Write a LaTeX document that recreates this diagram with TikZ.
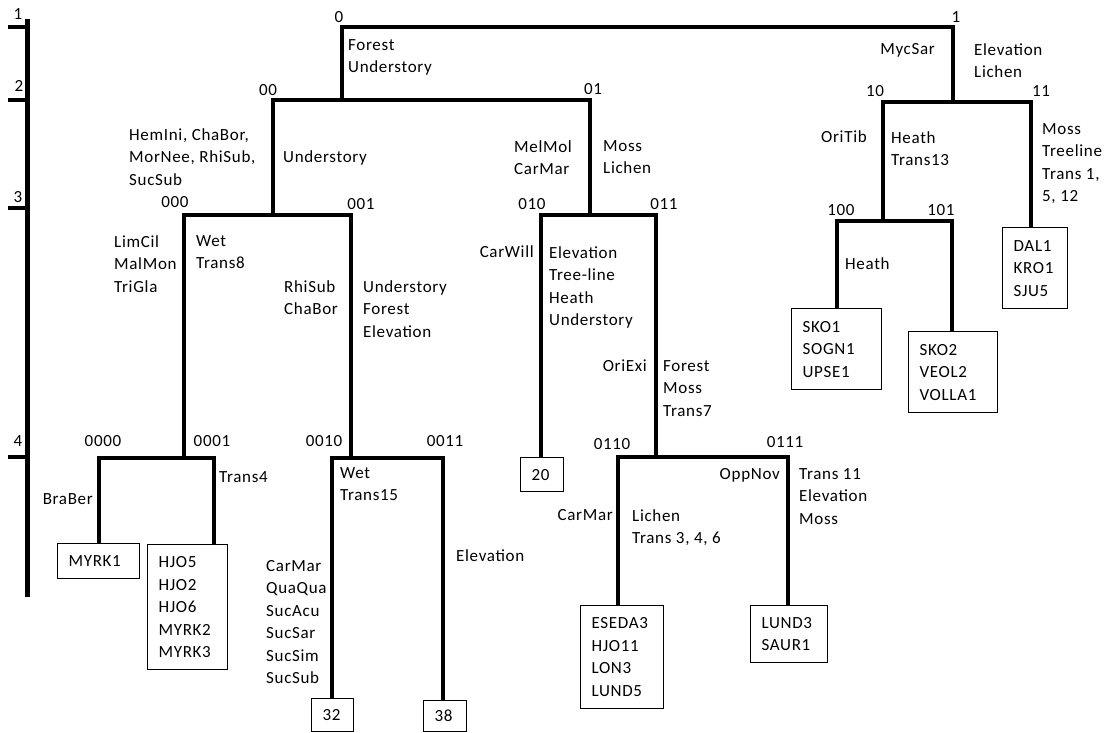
\documentclass[tikz,border=0pt]{standalone}
\usepackage{fontspec}
\setmainfont{Carlito}[LetterSpace=4]
\hyphenpenalty=10000

\tikzset{
  bar/.style={line width=4pt, line cap=rect},
  stem/.style={line width=4pt},
  site/.style={draw, line width=1.2pt, anchor=north west, align=left, inner xsep=11pt, inner ysep=0pt},
  num/.style={anchor=south, inner sep=0pt},
  txtl/.style={anchor=north west, align=left, inner sep=0pt, execute at begin node=\strut},
  txtr/.style={anchor=north east, align=right, inner sep=0pt, execute at begin node=\strut},
}

\begin{document}
\begin{tikzpicture}[x=1pt, y=-1pt, font=\fontsize{17}{22.5}\selectfont]
\useasboundingbox (0,0) rectangle (1108,732);

% level scale
\coordinate (st) at (27,19);
\coordinate (sb) at (27,597);
\coordinate (k1) at (8,27);
\coordinate (k2) at (8,100);
\coordinate (k3) at (8,208);
\coordinate (k4) at (8,457);
\draw[line width=5pt] (st) -- (sb);
\draw[stem] (k1) -- (k1 -| st);
\draw[stem] (k2) -- (k2 -| st);
\draw[stem] (k3) -- (k3 -| st);
\draw[stem] (k4) -- (k4 -| st);
\node[num] (s1) at (18,20) {1};
\node[num] (s2) at (19,92) {2};
\node[num] (s3) at (18,203) {3};
\node[num] (s4) at (18,447) {4};

% splits
\coordinate (c0) at (342,27);
\coordinate (c1) at (953,27);
\coordinate (c00) at (273,100);
\coordinate (c01) at (590,100);
\coordinate (c10) at (883,102);
\coordinate (c11) at (1031,102);
\coordinate (c000) at (184,215);
\coordinate (c001) at (351,215);
\coordinate (c010) at (541,215);
\coordinate (c011) at (656,215);
\coordinate (c100) at (837,221);
\coordinate (c101) at (952,221);
\coordinate (c0000) at (99,458);
\coordinate (c0001) at (214,458);
\coordinate (c0010) at (332,458);
\coordinate (c0011) at (443,458);
\coordinate (c0110) at (618,457);
\coordinate (c0111) at (788,457);

% leaf boxes
\node[site, text width=60pt, minimum height=35pt] (b0000) at (57,543) {MYRK1};
\node[site, text width=58pt, minimum height=125pt] (b0001) at (147,544) {HJO5\\HJO2\\HJO6\\MYRK2\\MYRK3};
\node[site, text width=20pt, minimum height=33pt] (b0010) at (311,698) {32};
\node[site, text width=21pt, minimum height=31pt] (b0011) at (423,700) {38};
\node[site, text width=21pt, minimum height=34pt] (b010) at (520,457) {20};
\node[site, text width=61pt, minimum height=103pt] (b0110) at (580,605) {ESEDA3\\HJO11\\LON3\\LUND5};
\node[site, text width=55pt, minimum height=57pt] (b0111) at (750,605) {LUND3\\SAUR1};
\node[site, text width=68pt, minimum height=81pt] (b100) at (791,308) {SKO1\\SOGN1\\UPSE1};
\node[site, text width=67pt, minimum height=81pt] (b101) at (908,331) {SKO2\\VEOL2\\VOLLA1};
\node[site, text width=43pt, minimum height=81pt] (b11) at (1002,227) {DAL1\\KRO1\\SJU5};

% horizontal bars
\draw[bar] (c0) -- (c1);
\draw[bar] (c00) -- (c01);
\draw[bar] (c10) -- (c11);
\draw[bar] (c000) -- (c001);
\draw[bar] (c010) -- (c011);
\draw[bar] (c100) -- (c101);
\draw[bar] (c0000) -- (c0001);
\draw[bar] (c0010) -- (c0011);
\draw[bar] (c0110) -- (c0111);

% vertical stems
\draw[stem] (c0) -- (c0 |- c00);
\draw[stem] (c1) -- (c1 |- c10);
\draw[stem] (c00) -- (c00 |- c000);
\draw[stem] (c01) -- (c01 |- c010);
\draw[stem] (c10) -- (c10 |- c100);
\draw[stem] (c11) -- (c11 |- b11.north);
\draw[stem] (c000) -- (c000 |- c0000);
\draw[stem] (c001) -- (c001 |- c0010);
\draw[stem] (c010) -- (c010 |- b010.north);
\draw[stem] (c011) -- (c011 |- c0110);
\draw[stem] (c100) -- (c100 |- b100.north);
\draw[stem] (c101) -- (c101 |- b101.north);
\draw[stem] (c0000) -- (c0000 |- b0000.north);
\draw[stem] (c0001) -- (c0001 |- b0001.north);
\draw[stem] (c0010) -- (c0010 |- b0010.north);
\draw[stem] (c0011) -- (c0011 |- b0011.north);
\draw[stem] (c0110) -- (c0110 |- b0110.north);
\draw[stem] (c0111) -- (c0111 |- b0111.north);

% split numbers
\node[num] (n0) at (339,23) {0};
\node[num] (n1) at (956,23) {1};
\node[num] (n00) at (268,96) {00};
\node[num] (n01) at (593,95) {01};
\node[num] (n10) at (875,97) {10};
\node[num] (n11) at (1041,97) {11};
\node[num] (n000) at (175,208) {000};
\node[num] (n001) at (361,210) {001};
\node[num] (n010) at (532,210) {010};
\node[num] (n011) at (664,210) {011};
\node[num] (n100) at (841,216) {100};
\node[num] (n101) at (941,216) {101};
\node[num] (n0000) at (103,447) {0000};
\node[num] (n0001) at (212,447) {0001};
\node[num] (n0010) at (324,447) {0010};
\node[num] (n0011) at (445,447) {0011};
\node[num] (n0110) at (612,450) {0110};
\node[num] (n0111) at (785,448) {0111};

% species (left) and variables (right) of each split
\node[txtl] (e0r) at (348,39) {Forest\\Understory};
\node[txtr] (e1l) at (935,39) {MycSar};
\node[txtl] (e1r) at (974,43) {Elevation\\Lichen};
\node[txtl] (e00l) at (129,128) {HemIni, ChaBor,\\MorNee, RhiSub,\\SucSub};
\node[txtl] (e00r) at (283,147) {Understory};
\node[txtl] (e01l) at (514,140) {MelMol\\CarMar};
\node[txtl] (e01r) at (603,140) {Moss\\Lichen};
\node[txtr] (e10l) at (867,127) {OriTib};
\node[txtl] (e10r) at (891,131) {Heath\\Trans13};
\node[txtl] (e11r) at (1042,123) {Moss\\Treeline\\Trans 1,\\5, 12};
\node[txtl] (e000l) at (114,235) {LimCil\\MalMon\\TriGla};
\node[txtl] (e000r) at (196,235) {Wet\\Trans8};
\node[txtl] (e001l) at (284,280) {RhiSub\\ChaBor};
\node[txtl] (e001r) at (363,280) {Understory\\Forest\\Elevation};
\node[txtr] (e010l) at (534,242) {CarWill};
\node[txtl] (e010r) at (549,246) {Elevation\\Tree-line\\Heath\\Understory};
\node[txtr] (e011l) at (647,356) {OriExi};
\node[txtl] (e011r) at (663,360) {Forest\\Moss\\Trans7};
\node[txtl] (e100r) at (845,254) {Heath};
\node[txtr] (e0000l) at (93,489) {BraBer};
\node[txtl] (e0001r) at (219,467) {Trans4};
\node[txtl] (e0010r) at (340,467) {Wet\\Trans15};
\node[txtl] (e0010l) at (266,560) {CarMar\\QuaQua\\SucAcu\\SucSar\\SucSim\\SucSub};
\node[txtl] (e0011r) at (456,546) {Elevation};
\node[txtr] (e0110l) at (613,505) {CarMar};
\node[txtl] (e0110r) at (632,509) {Lichen\\Trans 3, 4, 6};
\node[txtr] (e0111l) at (780,464) {OppNov};
\node[txtl] (e0111r) at (799,468) {Trans 11\\Elevation\\Moss};
\end{tikzpicture}
\end{document}
